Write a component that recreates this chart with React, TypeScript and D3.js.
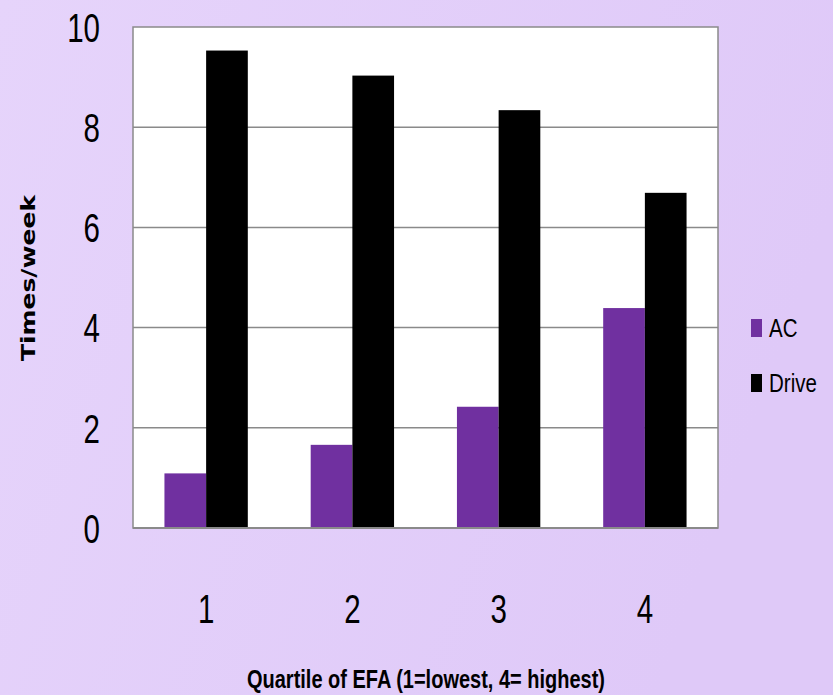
import * as React from 'react';
import * as d3 from 'd3';

const categories = ['1', '2', '3', '4'];
const seriesNames = ['AC', 'Drive'];
const acValues = [1.09, 1.66, 2.42, 4.39];
const driveValues = [9.53, 9.03, 8.34, 6.69];
const yTicks = [0, 2, 4, 6, 8, 10];

const COLORS: Record<string, string> = {
  AC: '#7030A0',
  Drive: '#000000',
};

const W = 833;
const H = 695;
const FONT = '"Liberation Sans", Arial, sans-serif';

export default function App() {
  const ref = React.useRef<SVGSVGElement>(null);

  React.useEffect(() => {
    const svg = d3.select(ref.current);
    svg.selectAll('*').remove();

    const plot = { left: 133, right: 718, top: 27, bottom: 528 };

    // background
    const defs = svg.append('defs');
    const grad = defs
      .append('linearGradient')
      .attr('id', 'bg')
      .attr('x1', '0')
      .attr('x2', '1')
      .attr('y1', '0')
      .attr('y2', '0.3');
    grad.append('stop').attr('offset', '0').attr('stop-color', '#e6d4fb');
    grad.append('stop').attr('offset', '1').attr('stop-color', '#dfc9f8');
    svg.append('rect').attr('width', W).attr('height', H).attr('fill', 'url(#bg)');

    const x0 = d3
      .scaleBand<string>()
      .domain(categories)
      .range([plot.left, plot.right])
      .paddingInner(0.43)
      .paddingOuter(0.215);
    const x1 = d3.scaleBand<string>().domain(seriesNames).range([0, x0.bandwidth()]);
    const y = d3.scaleLinear().domain([0, 10]).range([plot.bottom, plot.top]);

    // plot area
    svg
      .append('rect')
      .attr('x', plot.left)
      .attr('y', plot.top)
      .attr('width', plot.right - plot.left)
      .attr('height', plot.bottom - plot.top)
      .attr('fill', '#ffffff')
      .attr('stroke', '#8a8a8a')
      .attr('stroke-width', 1.5);

    // gridlines
    svg
      .append('g')
      .selectAll('line')
      .data(yTicks.filter((t) => t > 0 && t < 10))
      .enter()
      .append('line')
      .attr('x1', plot.left)
      .attr('x2', plot.right)
      .attr('y1', (d) => y(d))
      .attr('y2', (d) => y(d))
      .attr('stroke', '#8a8a8a')
      .attr('stroke-width', 1.5);

    // bars
    const rows = categories.map((c, i) => ({ c, AC: acValues[i], Drive: driveValues[i] }));
    const groups = svg
      .append('g')
      .selectAll('g')
      .data(rows)
      .enter()
      .append('g')
      .attr('transform', (d) => `translate(${x0(d.c)},0)`);
    groups
      .selectAll('rect')
      .data((d) => seriesNames.map((s) => ({ s, v: (d as any)[s] as number })))
      .enter()
      .append('rect')
      .attr('x', (d) => x1(d.s)!)
      .attr('width', x1.bandwidth())
      .attr('y', (d) => y(d.v))
      .attr('height', (d) => y(0) - y(d.v))
      .attr('fill', (d) => COLORS[d.s]);

    // baseline
    svg
      .append('line')
      .attr('x1', plot.left)
      .attr('x2', plot.right)
      .attr('y1', y(0))
      .attr('y2', y(0))
      .attr('stroke', '#8a8a8a')
      .attr('stroke-width', 2);

    // y tick labels (narrowed to mimic a condensed face)
    svg
      .append('g')
      .selectAll('text')
      .data(yTicks)
      .enter()
      .append('text')
      .attr('transform', (d) => `translate(100,${y(d)}) scale(0.72,1)`)
      .attr('dy', '0.36em')
      .attr('text-anchor', 'end')
      .style('font-family', FONT)
      .style('font-size', '41px')
      .style('fill', '#000')
      .text((d) => String(d));

    // x tick labels
    svg
      .append('g')
      .selectAll('text')
      .data(categories)
      .enter()
      .append('text')
      .attr('transform', (d) => `translate(${x0(d)! + x0.bandwidth() / 2},623) scale(0.72,1)`)
      .attr('text-anchor', 'middle')
      .style('font-family', FONT)
      .style('font-size', '41px')
      .style('fill', '#000')
      .text((d) => d);

    // axis titles
    svg
      .append('text')
      .attr('x', 426)
      .attr('y', 688)
      .attr('text-anchor', 'middle')
      .attr('textLength', 358)
      .attr('lengthAdjust', 'spacingAndGlyphs')
      .style('font-family', FONT)
      .style('font-weight', '700')
      .style('font-size', '26px')
      .style('fill', '#000')
      .text('Quartile of EFA (1=lowest, 4= highest)');

    svg
      .append('text')
      .attr('transform', 'translate(35,278) rotate(-90)')
      .attr('text-anchor', 'middle')
      .attr('textLength', 166)
      .attr('lengthAdjust', 'spacingAndGlyphs')
      .style('font-family', '"DejaVu Sans", Verdana, sans-serif')
      .style('font-weight', '700')
      .style('font-size', '19px')
      .style('fill', '#000')
      .text('Times/week');

    // legend
    const legend = svg
      .append('g')
      .selectAll('g')
      .data(seriesNames)
      .enter()
      .append('g')
      .attr('transform', (_d, i) => `translate(751,${319 + i * 55})`);
    legend
      .append('rect')
      .attr('width', 11)
      .attr('height', 18)
      .attr('fill', (d) => COLORS[d]);
    legend
      .append('text')
      .attr('transform', 'translate(18,18) scale(0.82,1)')
      .style('font-family', FONT)
      .style('font-size', '25px')
      .style('fill', '#000')
      .text((d) => d);
  }, []);

  return (
    <div style={{ position: 'absolute', left: 0, top: 0 }}>
      <svg ref={ref} width={W} height={H} style={{ display: 'block' }} />
    </div>
  );
}
